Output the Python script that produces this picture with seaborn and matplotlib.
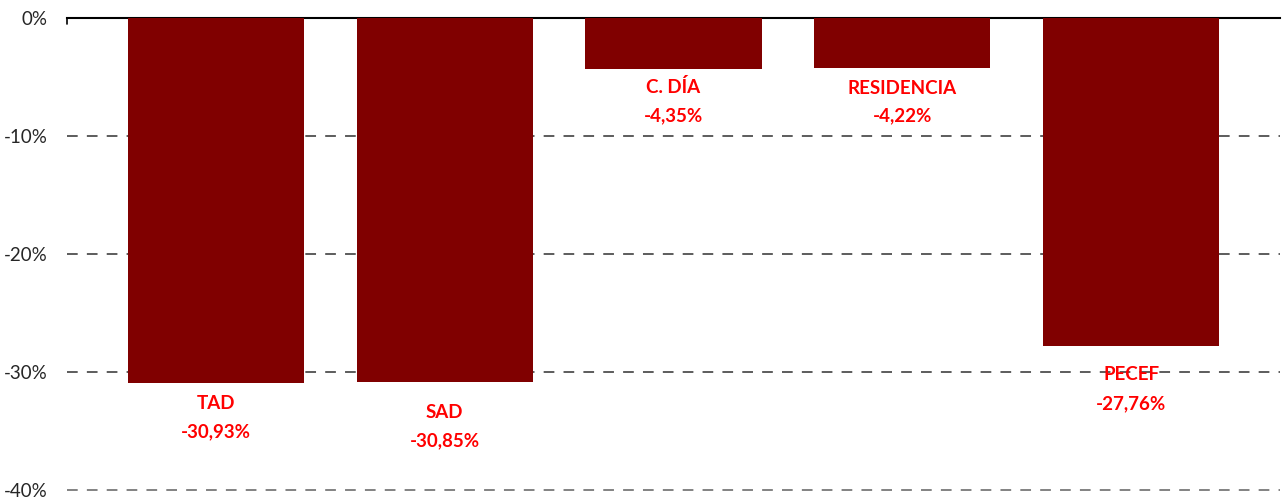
import matplotlib
matplotlib.use("Agg")
import matplotlib.pyplot as plt
import seaborn as sns
import pandas as pd

# Data
categorias = ["TAD", "SAD", "C. DÍA", "RESIDENCIA", "PECEF"]
variacion = [-30.93, -30.85, -4.35, -4.22, -27.76]
etiquetas = ["-30,93%", "-30,85%", "-4,35%", "-4,22%", "-27,76%"]
# label heights (data units), placed by hand like in the original sheet
nombre_y = [-32.7, -33.4, -5.85, -6.0, -30.2]
valor_y = [-35.1, -35.8, -8.3, -8.3, -32.7]
yticks = [0, -10, -20, -30, -40]

df = pd.DataFrame({"cat": categorias, "val": variacion})

sns.set_style("white")
plt.rcParams["font.family"] = ["Lato", "DejaVu Sans"]

fig = plt.figure(figsize=(12.86, 5.01), dpi=100)
ax = fig.add_axes([0.0521, 0.022, 0.9432, 0.942])

sns.barplot(data=df, x="cat", y="val", color="#800000", width=0.77,
            saturation=1, linewidth=0, ax=ax, zorder=3)

ax.set_ylim(-40, 0)
ax.set_xlim(-0.65, 4.65)
ax.set_yticks(yticks)
ax.set_yticklabels([f"{t}%" for t in yticks], fontsize=13.5)
ax.tick_params(axis="y", length=0, pad=14)
ax.set_xticks([])
ax.set_xlabel("")
ax.set_ylabel("")

for t in yticks[1:]:
    c = "#606060" if t == -40 else "#303030"
    ax.axhline(t, color=c, lw=1.1, ls=(0, (7, 6)), zorder=1, clip_on=False)

for s in ["left", "right", "bottom"]:
    ax.spines[s].set_visible(False)
ax.spines["top"].set_color("black")
ax.spines["top"].set_linewidth(1.5)
ax.plot([-0.65, -0.65], [0, -0.5], color="black", lw=1.2, clip_on=False)

for i in range(len(categorias)):
    ax.text(i, nombre_y[i], categorias[i], ha="center", va="center",
            color="#ff0000", fontsize=13.5, fontweight="bold")
    ax.text(i, valor_y[i], etiquetas[i], ha="center", va="center",
            color="#ff0000", fontsize=13.5, fontweight="bold")

fig.savefig("out.png", dpi=100)
